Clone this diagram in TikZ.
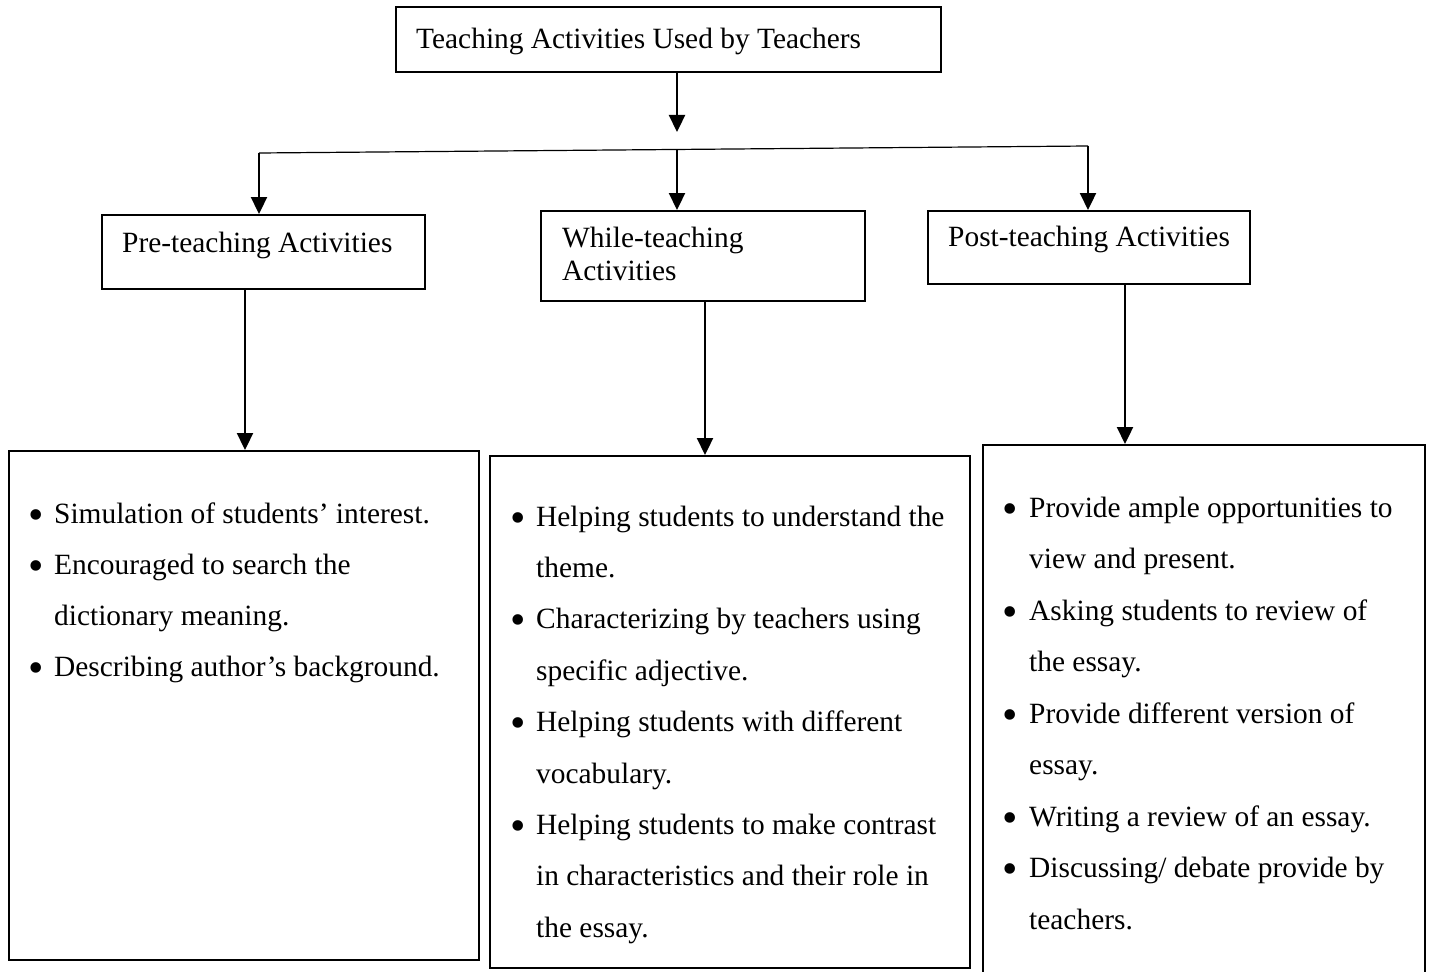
\documentclass[tikz,border=0pt]{standalone}
\usepackage{fontspec}
\setmainfont{Liberation Serif}
\usetikzlibrary{arrows.meta}
\begin{document}
\begin{tikzpicture}[x=1pt,y=-1pt,
  box/.style={draw, line width=1.8pt, inner sep=0pt, anchor=north west},
  txt/.style={inner sep=0pt, anchor=base west, font=\fontsize{29.4}{33}\selectfont},
  bul/.style={inner sep=0pt, anchor=base, font=\fontsize{44}{44}\selectfont},
  arr/.style={line width=2.3pt, -{Triangle[length=17pt,width=16pt]}},
  ]
\useasboundingbox (0,0) rectangle (1431,971);
% title
\node[box, minimum width=545pt, minimum height=65pt] (top) at (395,6) {};
\node[txt] (toptxt) at (416,49) {Teaching Activities Used by Teachers};
% header boxes
\node[box, minimum width=323pt, minimum height=74pt] (pre) at (101,214) {};
\node[txt] (pretxt) at (122,252) {Pre-teaching Activities};
\node[box, minimum width=324pt, minimum height=90pt] (while) at (540,210) {};
\node[txt] (whiletxt1) at (562,247) {While-teaching};
\node[txt] (whiletxt2) at (562,280) {Activities};
\node[box, minimum width=322pt, minimum height=73pt] (post) at (927,210) {};
\node[txt] (posttxt) at (948,246) {Post-teaching Activities};
% bottom boxes
\node[box, minimum width=470pt, minimum height=509pt] (lb) at (8,450) {};
\node[box, minimum width=480pt, minimum height=512pt] (mb) at (489,455) {};
\node[box, minimum width=442pt, minimum height=560pt] (rb) at (982,444) {};
% connectors
\coordinate (tm) at (677,132);
\coordinate (hl) at (259,153);
\coordinate (hm) at (677,150);
\coordinate (hr) at (1088,146);
\draw[arr] (top.south -| tm) -- (tm);
\draw[line width=1.2pt] (hl) -- (hr);
\draw[arr] (hl) -- (hl |- pre.north);
\draw[arr] (hm) -- (hm |- while.north);
\draw[arr] (hr) -- (hr |- post.north);
\coordinate (a1) at (245,0);
\coordinate (a2) at (705,0);
\coordinate (a3) at (1125,0);
\draw[arr] (pre.south -| a1) -- (lb.north -| a1);
\draw[arr] (while.south -| a2) -- (mb.north -| a2);
\draw[arr] (post.south -| a3) -- (rb.north -| a3);
% left list
\foreach \y/\t/\b [count=\i] in {
  523/{Simulation of students’ interest.}/1,
  574/{Encouraged to search the}/1,
  625/{dictionary meaning.}/0,
  676/{Describing author’s background.}/1}{
  \node[txt] (L\i) at (54,\y) {\t};
  \ifnum\b=1 \node[bul] (LB\i) at (36,\y+6) {•};\fi
}
% middle list
\foreach \y/\t/\b [count=\i] in {
  526/{Helping students to understand the}/1,
  577.4/{theme.}/0,
  628.8/{Characterizing by teachers using}/1,
  680.2/{specific adjective.}/0,
  731.6/{Helping students with different}/1,
  783/{vocabulary.}/0,
  834.4/{Helping students to make contrast}/1,
  885.8/{in characteristics and their role in}/0,
  937.2/{the essay.}/0}{
  \node[txt] (M\i) at (536,\y) {\t};
  \ifnum\b=1 \node[bul] (MB\i) at (518,\y+6) {•};\fi
}
% right list
\foreach \y/\t/\b [count=\i] in {
  517/{Provide ample opportunities to}/1,
  568.5/{view and present.}/0,
  620/{Asking students to review of}/1,
  671.5/{the essay.}/0,
  723/{Provide different version of}/1,
  774.5/{essay.}/0,
  826/{Writing a review of an essay.}/1,
  877.5/{Discussing/ debate provide by}/1,
  929/{teachers.}/0}{
  \node[txt] (R\i) at (1029,\y) {\t};
  \ifnum\b=1 \node[bul] (RB\i) at (1010,\y+6) {•};\fi
}
\end{tikzpicture}
\end{document}
